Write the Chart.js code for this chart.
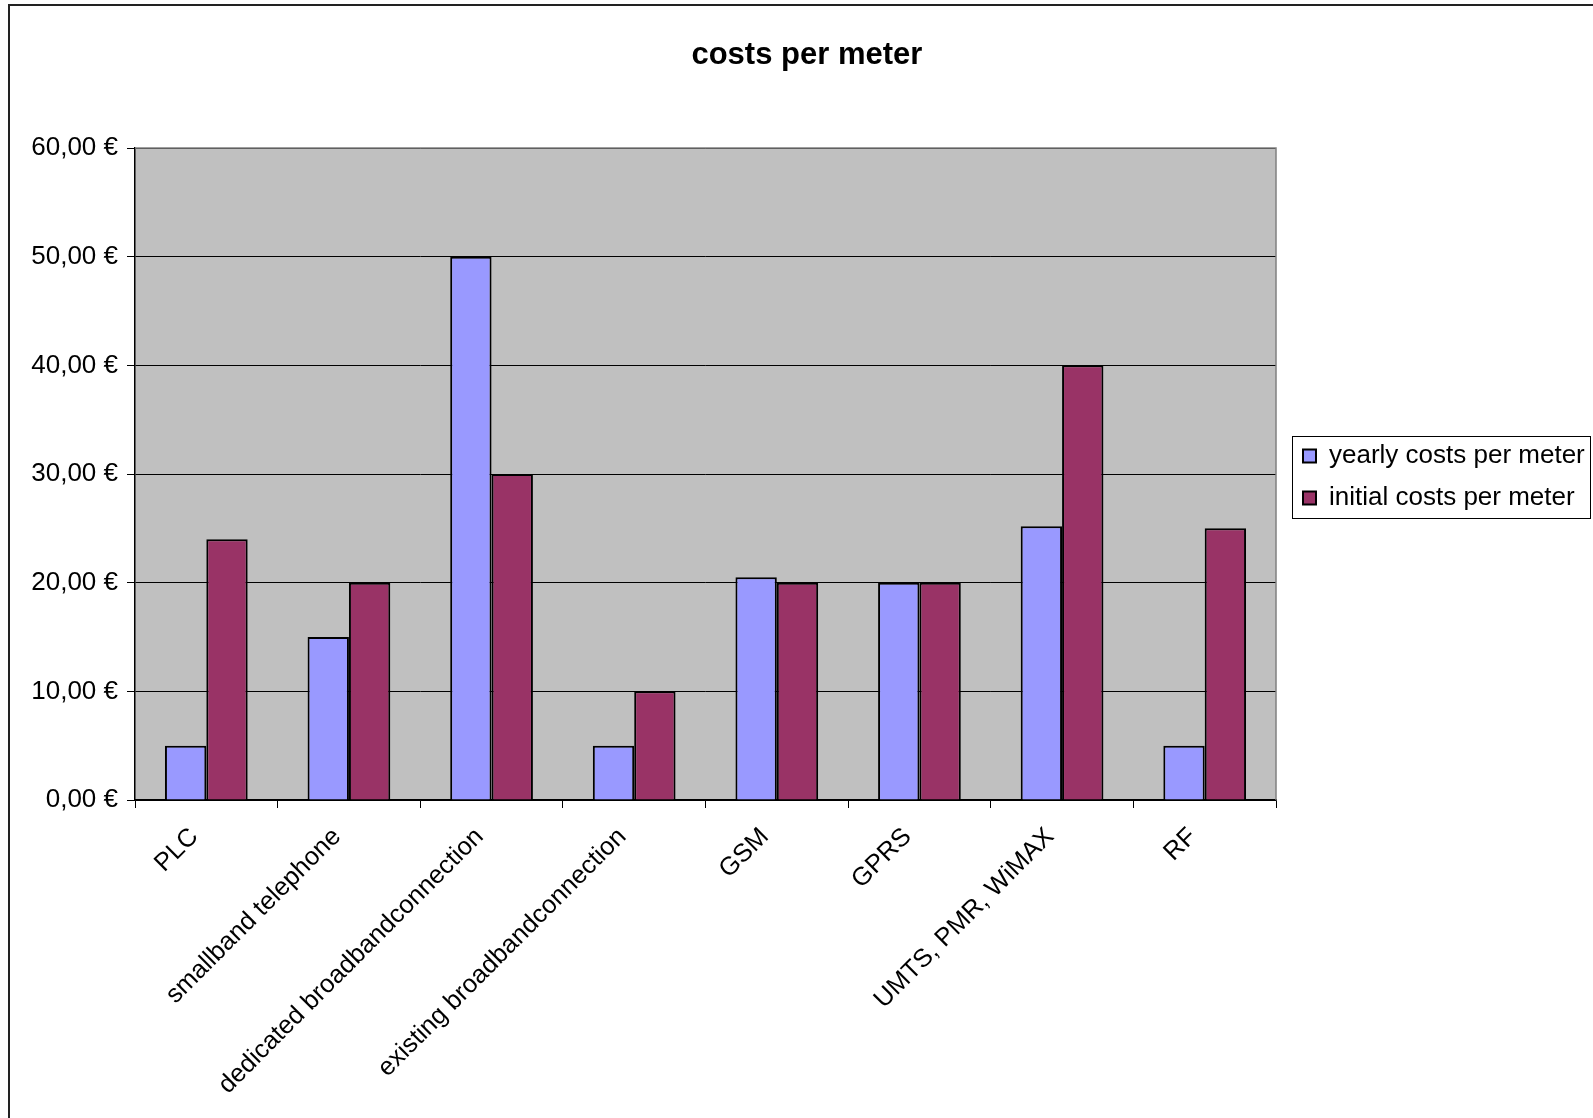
<!DOCTYPE html>
<html><head><meta charset="utf-8">
<script src="https://cdn.jsdelivr.net/npm/chart.js@4/dist/chart.umd.min.js"></script>
<style>html,body{margin:0;padding:0;background:#fff;overflow:hidden}</style>
</head><body><canvas id="c" width="1593" height="1118"></canvas>
<script>
const categories = ["PLC","smallband telephone","dedicated broadbandconnection","existing broadbandconnection","GSM","GPRS","UMTS, PMR, WiMAX","RF"];
const yearlyCosts = [5,15,50,5,20.5,20,25.2,5];
const initialCosts = [24,20,30,10,20,20,40,25];
const seriesLabels = ["yearly costs per meter","initial costs per meter"];
const yTicks = [0,10,20,30,40,50,60];
const chartTitle = "costs per meter";

const FONT = "'Liberation Sans', Arial, sans-serif";
const W = 1593, H = 1118;
const AREA_LEFT = 135, AREA_RIGHT = 1276, AREA_TOP = 148, AREA_BOTTOM = 800;
const LEG_PAD = 16, LEG_BOX = 13, LEG_FS = 26, LEG_SHIFT = 11, LEG_DOWN = 6;
const TITLE_SHIFT = 15;

const mctx = document.createElement('canvas').getContext('2d');
mctx.font = LEG_FS + "px " + FONT;
const legTextW = Math.max(...seriesLabels.map(s => mctx.measureText(s).width));
const legendWidth = LEG_PAD + LEG_BOX + LEG_FS / 2 + legTextW;
const padR = (W - AREA_RIGHT) - legendWidth - 10;

const fmt = v => v.toFixed(2).replace('.', ',') + ' €';

const decor = {
  id: 'decor',
  afterLayout(chart) {
    const a = chart.chartArea;
    const lg = chart.legend;
    if (lg) {
      lg.left += LEG_SHIFT; lg.right += LEG_SHIFT;
      lg.top = a.top + LEG_DOWN; lg.bottom = a.bottom; lg.height = lg.bottom - lg.top;
    }
    const tb = chart.titleBlock;
    if (tb) { tb.left += TITLE_SHIFT; tb.right += TITLE_SHIFT; }
  },
  beforeDraw(chart) {
    const {ctx, chartArea: a} = chart;
    ctx.save();
    ctx.fillStyle = '#C0C0C0';
    ctx.fillRect(a.left, a.top, a.right - a.left, a.bottom - a.top);
    ctx.restore();
  },
  afterDraw(chart) {
    const {ctx, chartArea: a} = chart;
    ctx.save();
    ctx.strokeStyle = '#808080';
    ctx.lineWidth = 1.5;
    ctx.beginPath();
    ctx.moveTo(a.left, a.top); ctx.lineTo(a.right, a.top); ctx.lineTo(a.right, a.bottom);
    ctx.stroke();
    const hb = chart.legend && chart.legend.legendHitBoxes;
    if (hb && hb.length) {
      const l = Math.min(...hb.map(h => h.left)) - 11;
      const t = Math.min(...hb.map(h => h.top)) - 7;
      const r = Math.max(...hb.map(h => h.left + h.width)) + 5;
      const b = Math.max(...hb.map(h => h.top + h.height)) + 7;
      ctx.strokeStyle = '#000';
      ctx.lineWidth = 1;
      ctx.strokeRect(Math.round(l) + 0.5, Math.round(t) + 0.5, Math.round(r - l), Math.round(b - t));
    }
    ctx.strokeStyle = '#222';
    ctx.lineWidth = 2;
    ctx.beginPath();
    ctx.moveTo(9, H + 5); ctx.lineTo(9, 5); ctx.lineTo(W + 5, 5);
    ctx.stroke();
    ctx.restore();
  }
};

new Chart(document.getElementById('c'), {
  type: 'bar',
  data: {
    labels: categories,
    datasets: [
      { label: seriesLabels[0], data: yearlyCosts, backgroundColor: '#9999FF', borderColor: '#000', borderWidth: 2, categoryPercentage: 0.58, barPercentage: 1.0 },
      { label: seriesLabels[1], data: initialCosts, backgroundColor: '#993366', borderColor: '#000', borderWidth: 2, categoryPercentage: 0.58, barPercentage: 1.0 }
    ]
  },
  options: {
    responsive: false,
    animation: false,
    devicePixelRatio: 1,
    layout: { padding: { left: 0, right: padR, top: 0, bottom: 0 } },
    plugins: {
      title: { display: true, text: chartTitle, color: '#000', font: { family: FONT, size: 31, weight: 'bold', lineHeight: 1.2 }, padding: { top: 37, bottom: AREA_TOP - 37 - 37.2 } },
      legend: { position: 'right', align: 'center', labels: { boxWidth: LEG_BOX, boxHeight: LEG_BOX, padding: LEG_PAD, color: '#000', font: { family: FONT, size: LEG_FS } } },
      tooltip: { enabled: false }
    },
    scales: {
      x: {
        offset: true,
        grid: { offset: true, drawOnChartArea: false, drawTicks: true, tickLength: 8, color: '#000', lineWidth: 1 },
        border: { display: true, color: '#000', width: 1.5 },
        ticks: { minRotation: 45, maxRotation: 45, autoSkip: false, color: '#000', padding: 14, labelOffset: -12, font: { family: FONT, size: 25.5 } },
        afterFit(s) { s.height = H - AREA_BOTTOM; }
      },
      y: {
        min: 0, max: 60,
        afterBuildTicks(s) { s.ticks = yTicks.map(v => ({ value: v })); },
        grid: { color: '#000', lineWidth: 1, drawTicks: true, tickLength: 8 },
        border: { display: true, color: '#000', width: 1.5 },
        ticks: { color: '#000', padding: 9, font: { family: FONT, size: 26 }, callback: v => fmt(v) },
        afterFit(s) { s.width = AREA_LEFT; }
      }
    }
  },
  plugins: [decor]
});
</script>
</body></html>
